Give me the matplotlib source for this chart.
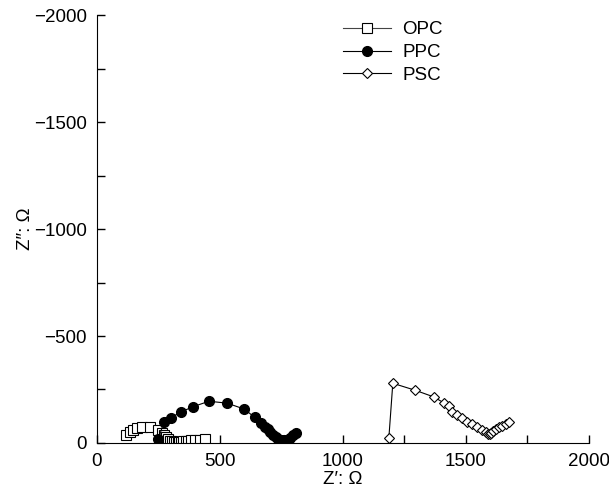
import numpy as np
import matplotlib
matplotlib.use("Agg")
import matplotlib.pyplot as plt
from matplotlib.ticker import MultipleLocator, FuncFormatter

plt.rcParams['font.family'] = ['Liberation Sans', 'DejaVu Sans']

# impedance spectra, -Z'' plotted upward
opc_re = [120, 133, 145, 162, 182, 216, 248, 263, 273, 281, 290, 298, 305, 312,
          320, 328, 336, 344, 352, 362, 372, 384, 398, 418, 440]
opc_im = [38, 50, 60, 70, 76, 73, 62, 48, 36, 26, 17, 11, 8, 6,
          5, 5, 5, 6, 7, 8, 10, 12, 14, 16, 18]

ppc_re = [250, 272, 301, 342, 392, 456, 530, 600, 641, 667, 682, 694, 705, 716,
          727, 738, 750, 762, 774, 786, 798, 811]
ppc_im = [17, 97, 118, 145, 170, 195, 186, 158, 120, 92, 76, 63, 50, 38,
          27, 18, 13, 12, 16, 25, 36, 48]

psc_re = [1187, 1203, 1295, 1370, 1411, 1431, 1445, 1465, 1486, 1506, 1526, 1546,
          1566, 1580, 1590, 1596, 1602, 1612, 1622, 1635, 1648, 1662, 1675]
psc_im = [25, 279, 246, 215, 187, 173, 147, 130, 115, 100, 87, 73,
          61, 50, 44, 42, 48, 58, 66, 74, 81, 89, 100]


def neg_label(v, pos):
    if v == 0:
        return "0"
    return "\u2212" + "%d" % v


def main():
    fig = plt.figure(figsize=(6.09, 4.90), dpi=100)
    ax = fig.add_axes([0.159, 0.096, 0.808, 0.873])

    ax.plot(opc_re, opc_im, color="#444444", lw=0.8, marker="s", ms=6.5,
            mfc="white", mec="black", mew=0.8, label="OPC")
    ax.plot(ppc_re, ppc_im, color="black", lw=0.8, marker="o", ms=7,
            mfc="black", mec="black", label="PPC")
    ax.plot(psc_re, psc_im, color="black", lw=0.8, marker="D", ms=5.5,
            mfc="white", mec="black", mew=0.8, label="PSC")

    ax.set_xlim(0, 2000)
    ax.set_ylim(0, 2000)
    ax.spines["top"].set_visible(False)
    ax.spines["right"].set_visible(False)
    ax.xaxis.set_major_locator(MultipleLocator(500))
    ax.xaxis.set_minor_locator(MultipleLocator(250))
    ax.yaxis.set_major_locator(MultipleLocator(500))
    ax.yaxis.set_minor_locator(MultipleLocator(250))
    ax.yaxis.set_major_formatter(FuncFormatter(neg_label))
    ax.tick_params(which="both", direction="in", length=6, width=1,
                   labelsize=13.5, pad=7)

    ax.set_xlabel("Z\u2032: \u03a9", fontsize=13.5, labelpad=1)
    ax.set_ylabel("Z\u2033: \u03a9", fontsize=13.5, labelpad=0)

    ax.legend(loc="upper left", bbox_to_anchor=(0.465, 1.025), frameon=False,
              fontsize=13.5, handlelength=2.6, handletextpad=0.6,
              labelspacing=0.3)

    fig.savefig("out.png", dpi=100)


if __name__ == "__main__":
    main()
